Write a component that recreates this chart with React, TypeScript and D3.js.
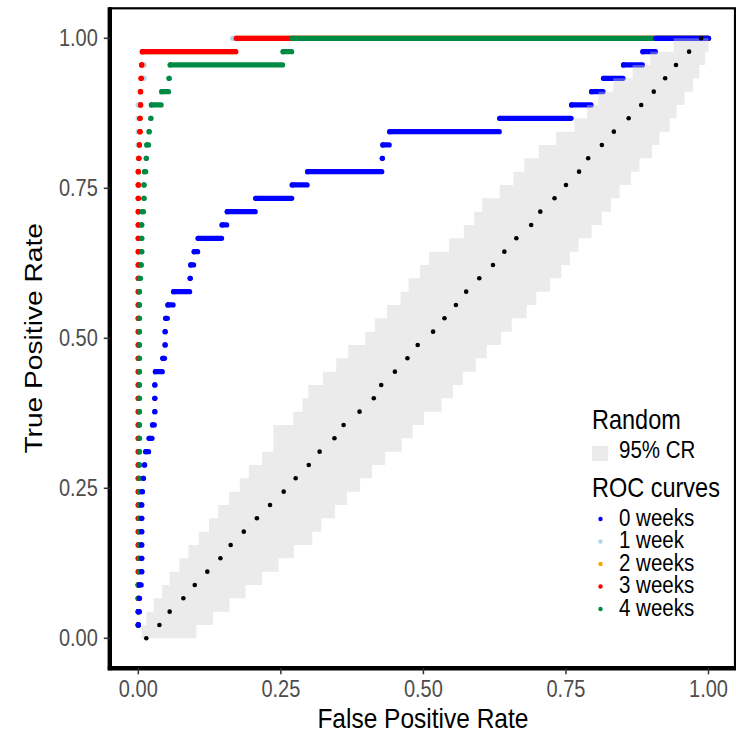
import React from 'react';
import * as d3 from 'd3';

// ROC curves, one point row per true-positive count (45 positives)
const nPositives = 45;
const truePositives = [1, 2, 3, 4, 5, 6, 7, 8, 9, 10, 11, 12, 13, 14, 15, 16, 17, 18, 19, 20, 21, 22, 23, 24, 25, 26, 27, 28, 29, 30, 31, 32, 33, 34, 35, 36, 37, 38, 39, 40, 41, 42, 43, 44, 45];

const weeks0From = [0, 0, 0.002, 0.002, 0.006, 0.006, 0.006, 0.006, 0.006, 0.006, 0.007, 0.009, 0.011, 0.013, 0.019, 0.025, 0.029, 0.029, 0.029, 0.030, 0.043, 0.047, 0.047, 0.048, 0.052, 0.062, 0.091, 0.092, 0.098, 0.105, 0.147, 0.156, 0.206, 0.270, 0.297, 0.428, 0.429, 0.441, 0.634, 0.760, 0.795, 0.816, 0.851, 0.885, 0.908];
const weeks0To = [0, 0.002, 0.002, 0.005, 0.006, 0.006, 0.006, 0.006, 0.006, 0.006, 0.007, 0.009, 0.011, 0.018, 0.024, 0.028, 0.029, 0.029, 0.029, 0.042, 0.046, 0.047, 0.047, 0.051, 0.061, 0.090, 0.091, 0.097, 0.104, 0.146, 0.155, 0.205, 0.269, 0.296, 0.427, 0.428, 0.440, 0.633, 0.759, 0.794, 0.815, 0.850, 0.884, 0.907, 1];

const weeks1From = [0, 0, 0, 0, 0, 0, 0, 0, 0, 0, 0, 0, 0, 0, 0, 0, 0, 0, 0, 0, 0, 0, 0, 0, 0, 0, 0, 0, 0, 0, 0, 0, 0, 0, 0, 0, 0, 0, 0, 0, 0.003, 0.008, 0.010, 0.011, 0.166];
const weeks1To = [0, 0, 0, 0, 0, 0, 0, 0, 0, 0, 0, 0, 0, 0, 0, 0, 0, 0, 0, 0, 0, 0, 0, 0, 0, 0, 0, 0, 0, 0, 0, 0, 0, 0, 0, 0, 0, 0, 0, 0, 0.003, 0.010, 0.010, 0.165, 1];

const weeks2From = [0, 0, 0, 0, 0, 0, 0, 0, 0, 0, 0, 0, 0, 0, 0, 0, 0, 0, 0, 0, 0, 0, 0, 0, 0, 0, 0, 0, 0, 0, 0, 0, 0, 0, 0, 0.001, 0.002, 0.003, 0.003, 0.004, 0.004, 0.005, 0.006, 0.008, 0.173];
const weeks2To = [0, 0, 0, 0, 0, 0, 0, 0, 0, 0, 0, 0, 0, 0, 0, 0, 0, 0, 0, 0, 0, 0, 0, 0, 0, 0, 0, 0, 0, 0, 0, 0, 0, 0, 0, 0.001, 0.002, 0.003, 0.003, 0.004, 0.004, 0.005, 0.006, 0.170, 1];

const weeks3From = [0, 0, 0, 0, 0, 0, 0, 0, 0, 0, 0, 0, 0, 0, 0, 0, 0, 0, 0, 0, 0, 0, 0, 0, 0, 0, 0, 0, 0, 0, 0, 0, 0, 0, 0, 0.001, 0.002, 0.003, 0.003, 0.004, 0.004, 0.005, 0.006, 0.007, 0.172];
const weeks3To = [0, 0, 0, 0, 0, 0, 0, 0, 0, 0, 0, 0, 0, 0, 0, 0, 0, 0, 0, 0, 0, 0, 0, 0, 0, 0, 0, 0, 0, 0, 0, 0, 0, 0, 0, 0.001, 0.002, 0.003, 0.003, 0.004, 0.004, 0.005, 0.006, 0.171, 1];

const weeks4From = [0, 0, 0, 0, 0.002, 0.002, 0.002, 0.002, 0.002, 0.002, 0.002, 0.002, 0.002, 0.002, 0.002, 0.002, 0.002, 0.002, 0.002, 0.002, 0.002, 0.002, 0.002, 0.002, 0.002, 0.002, 0.002, 0.005, 0.006, 0.006, 0.006, 0.007, 0.010, 0.010, 0.011, 0.014, 0.015, 0.019, 0.022, 0.023, 0.041, 0.054, 0.056, 0.254, 0.270];
const weeks4To = [0, 0, 0, 0, 0.002, 0.002, 0.002, 0.002, 0.002, 0.002, 0.002, 0.002, 0.002, 0.002, 0.002, 0.002, 0.002, 0.002, 0.002, 0.002, 0.002, 0.002, 0.002, 0.002, 0.002, 0.002, 0.004, 0.005, 0.006, 0.006, 0.006, 0.009, 0.010, 0.010, 0.013, 0.014, 0.018, 0.019, 0.022, 0.040, 0.053, 0.054, 0.253, 0.269, 1];

const seriesNames = ['0 weeks', '1 week', '2 weeks', '3 weeks', '4 weeks'];
const seriesColors = ['#0000FF', '#ADD8E6', '#FFA500', '#FF0000', '#008B45'];
const seriesFrom = [weeks0From, weeks1From, weeks2From, weeks3From, weeks4From];
const seriesTo = [weeks0To, weeks1To, weeks2To, weeks3To, weeks4To];
const drawOrder = [1, 2, 3, 4, 0];

// random classifier: median points and 95% credible region rows
const randomTruePositives = [0, 1, 2, 3, 4, 5, 6, 7, 8, 9, 10, 11, 12, 13, 14, 15, 16, 17, 18, 19, 20, 21, 22, 23, 24, 25, 26, 27, 28, 29, 30, 31, 32, 33, 34, 35, 36, 37, 38, 39, 40, 41, 42, 43, 44, 45];
const randomFpr = [0.014, 0.037, 0.055, 0.079, 0.099, 0.121, 0.144, 0.162, 0.185, 0.208, 0.231, 0.255, 0.276, 0.299, 0.318, 0.344, 0.360, 0.388, 0.413, 0.426, 0.450, 0.472, 0.490, 0.517, 0.537, 0.557, 0.575, 0.598, 0.622, 0.642, 0.663, 0.689, 0.705, 0.730, 0.750, 0.773, 0.789, 0.813, 0.834, 0.860, 0.882, 0.904, 0.924, 0.943, 0.966, 0.987];
const bandLow = [0.006, 0.014, 0.027, 0.042, 0.055, 0.072, 0.088, 0.106, 0.124, 0.140, 0.159, 0.178, 0.194, 0.217, 0.237, 0.237, 0.272, 0.288, 0.298, 0.324, 0.347, 0.368, 0.398, 0.415, 0.436, 0.460, 0.474, 0.494, 0.510, 0.545, 0.571, 0.589, 0.603, 0.634, 0.658, 0.677, 0.702, 0.733, 0.765, 0.787, 0.807, 0.833, 0.867, 0.898, 0.939];
const bandHigh = [0.102, 0.131, 0.160, 0.188, 0.217, 0.246, 0.273, 0.305, 0.321, 0.345, 0.366, 0.389, 0.410, 0.433, 0.462, 0.481, 0.501, 0.532, 0.552, 0.569, 0.592, 0.611, 0.636, 0.655, 0.681, 0.698, 0.722, 0.742, 0.757, 0.772, 0.795, 0.813, 0.829, 0.844, 0.864, 0.879, 0.901, 0.914, 0.932, 0.944, 0.958, 0.973, 0.984, 0.994, 1.0];

const ticks = [0, 0.25, 0.5, 0.75, 1];
const tickLabels = ['0.00', '0.25', '0.50', '0.75', '1.00'];

const FONT = "'Liberation Sans', Arial, Helvetica, sans-serif";
const STRETCH = 1.15; // glyphs in the picture are a bit taller than wide

// text placed at (x, y) baseline, stretched vertically
const T = ({ x, y, rotate = 0, size, anchor = 'start', fill = 'black', dy, children }: any) => (
	<text
		transform={`translate(${x},${y}) rotate(${rotate}) scale(1,${STRETCH})`}
		textAnchor={anchor}
		fontSize={size}
		fill={fill}
		dy={dy}
	>
		{children}
	</text>
);

const App = () => {
	const x = d3.scaleLinear().domain([-0.05, 1.05]).range([109.8, 737]);
	const y = d3.scaleLinear().domain([-0.05, 1.05]).range([668.3, 8.3]);
	const tpr = (k: number) => k / nPositives;

	// stepped ribbon: left side going up, right side coming down
	const pts: [number, number][] = [];
	bandLow.forEach((lo, k) => {
		pts.push([x(lo), y(tpr(k))], [x(lo), y(tpr(k + 1))]);
	});
	for (let k = bandHigh.length - 1; k >= 0; k--) {
		pts.push([x(bandHigh[k]), y(tpr(k + 1))], [x(bandHigh[k]), y(tpr(k))]);
	}
	const bandPath = d3.line()(pts) + 'Z';

	const left = x(-0.05), right = 735, top = y(1.05), bottom = y(-0.05);

	return (
		<svg width={736} height={734} style={{ position: 'absolute', left: 0, top: 0, background: 'white' }} fontFamily={FONT}>
			<rect x={0} y={0} width={736} height={734} fill='white' />

			{drawOrder.map(s => (
				<g key={seriesNames[s]} stroke={seriesColors[s]} fill={seriesColors[s]}>
					{truePositives.map((k, i) => (
						<g key={k}>
							<line x1={x(seriesFrom[s][i])} x2={x(seriesTo[s][i])} y1={y(tpr(k))} y2={y(tpr(k))} strokeWidth={5.2} strokeLinecap='round' />
							<circle cx={x(seriesFrom[s][i])} cy={y(tpr(k))} r={2.6} stroke='none' />
						</g>
					))}
				</g>
			))}

			<path d={bandPath} fill='#CCCCCC' fillOpacity={0.4} stroke='none' />

			{randomTruePositives.map((k, i) => (
				<circle key={k} cx={x(randomFpr[i])} cy={y(tpr(k))} r={2.3} fill='black' />
			))}

			{/* panel border + axis lines */}
			<rect x={left} y={top} width={right - left} height={bottom - top} fill='none' stroke='black' strokeWidth={2.2} />
			<line x1={left} x2={left} y1={top - 1} y2={bottom + 2} stroke='black' strokeWidth={4.4} />
			<line x1={left - 2} x2={736} y1={bottom} y2={bottom} stroke='black' strokeWidth={4.4} />

			{ticks.map((t, i) => (
				<g key={'y' + t}>
					<line x1={left - 6} x2={left} y1={y(t)} y2={y(t)} stroke='#333333' strokeWidth={1.5} />
					<T x={left - 12} y={y(t) + 8} anchor='end' fill='#4D4D4D' size={20}>{tickLabels[i]}</T>
				</g>
			))}
			{ticks.map((t, i) => (
				<g key={'x' + t}>
					<line x1={x(t)} x2={x(t)} y1={bottom} y2={bottom + 6} stroke='#333333' strokeWidth={1.5} />
					<T x={x(t)} y={bottom + 29} anchor='middle' fill='#4D4D4D' size={20}>{tickLabels[i]}</T>
				</g>
			))}

			<T x={(left + 736) / 2} y={728} anchor='middle' size={24.5}>False Positive Rate</T>
			<g transform={`translate(42,${(top + bottom) / 2}) rotate(-90)`}>
				<text transform={`scale(${STRETCH},1)`} textAnchor='middle' fontSize={24.5} fill='black'>True Positive Rate</text>
			</g>

			{/* legend */}
			<g>
				<T x={592} y={429} size={23.5}>Random</T>
				<rect x={592} y={446} width={16} height={15} fill='#CCCCCC' fillOpacity={0.4} />
				<T x={619} y={458} size={20.5}>95% CR</T>
				<T x={592} y={497} size={23.5}>ROC curves</T>
				{seriesNames.map((name, i) => (
					<g key={name}>
						<circle cx={600.5} cy={519 + i * 22.5} r={2.2} fill={seriesColors[i]} />
						<T x={619} y={525.5 + i * 22.5} size={20.5}>{name}</T>
					</g>
				))}
			</g>
		</svg>
	);
};

export default App;
